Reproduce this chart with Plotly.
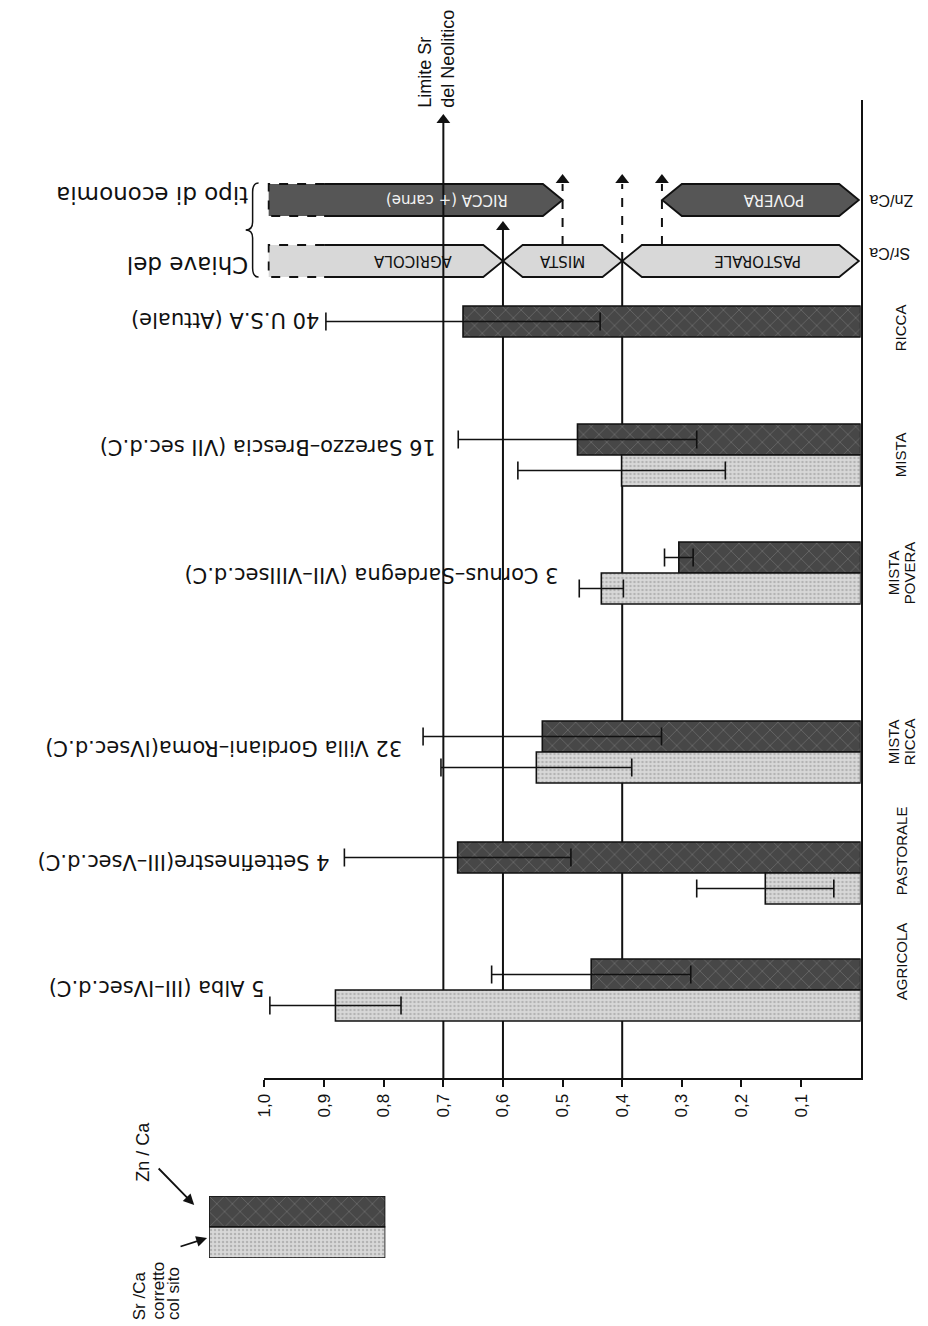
import plotly.graph_objects as go

W, H = 928, 1326

# ---------------- data ----------------
sites = ["5 Alba (III–IVsec.d.C)", "4 Settefinestre(III–Vsec.d.C)",
         "32 Villa Gordiani–Roma(IVsec.d.C)", "3 Cornus–Sardegna (VII–VIIIsec.d.C)",
         "16 Sarezzo–Brescia (VII sec.d.C)", "40 U.S.A (Attuale)"]
economy = ["AGRICOLA", "PASTORALE", "MISTA<br>RICCA", "MISTA<br>POVERA", "MISTA", "RICCA"]
sr_ca = [0.881, 0.160, 0.544, 0.435, 0.401, None]
sr_err = [0.110, 0.115, 0.160, 0.037, 0.174, None]
zn_ca = [0.452, 0.676, 0.534, 0.305, 0.475, 0.667]
zn_err = [0.167, 0.190, 0.200, 0.024, 0.200, 0.230]
tick_vals = [0.1, 0.2, 0.3, 0.4, 0.5, 0.6, 0.7, 0.8, 0.9, 1.0]
tick_text = ["0,1", "0,2", "0,3", "0,4", "0,5", "0,6", "0,7", "0,8", "0,9", "1,0"]

key_sr_labels = ["AGRICOLA", "MISTA", "PASTORALE"]
key_sr_bounds = [(0.993, 0.6), (0.6, 0.4), (0.4, 0.003)]
key_zn_labels = ["RICCA (+ carne)", "POVERA"]
key_zn_bounds = [(0.993, 0.5), (0.333, 0.003)]
neolithic_limit = 0.7

# ---------------- layout positions ----------------
slot_y = [990, 873, 752, 573, 455, 337]          # pair boundary (pixel-like y units)
econ_label_y = [961, 851, 742, 573, 455, 328]
site_label_x = [0.997, 0.888, 0.765, 0.503, 0.71, 0.905]
site_label_y = [988, 862, 748, 575, 447, 320]
key_sr_text_x = [0.752, 0.50, 0.173]
key_zn_text_x = [0.694, 0.146]
BAR_W = 31

DARK_BG, DARK_FG = "#474747", "#999999"
LIGHT_BG, LIGHT_FG = "#d8d8d8", "#8e8e8e"
INK = "#111111"
SANS = "Liberation Sans, Arial, Helvetica, sans-serif"
WIDE = "DejaVu Sans, Verdana, sans-serif"


def px(x):
    return x / W


def py(y):
    return 1 - y / H


fig = go.Figure()

# Zn/Ca bars (dark, above) and Sr/Ca bars (light, below)
fig.add_trace(go.Bar(
    x=zn_ca, y=slot_y, orientation="h", width=BAR_W, offset=-BAR_W,
    marker=dict(color=DARK_BG, line=dict(color=INK, width=1.6),
                pattern=dict(shape="x", bgcolor=DARK_BG, fgcolor=DARK_FG, size=11, solidity=0.12)),
    error_x=dict(type="data", array=zn_err, symmetric=True, color=INK, thickness=1.6, width=9),
    showlegend=False, hoverinfo="skip"))
fig.add_trace(go.Bar(
    x=sr_ca, y=slot_y, orientation="h", width=BAR_W, offset=0,
    marker=dict(color=LIGHT_BG, line=dict(color=INK, width=1.6),
                pattern=dict(shape=".", bgcolor=LIGHT_BG, fgcolor=LIGHT_FG, size=4, solidity=0.3)),
    error_x=dict(type="data", array=sr_err, symmetric=True, color=INK, thickness=1.6, width=9),
    showlegend=False, hoverinfo="skip"))

shapes = []
annotations = []

# ---------------- key hexagons ----------------
T = 0.033


def hex_path(x0, x1, yc, h, left_tip=True):
    if left_tip:
        pts = [(x0, yc), (x0 - T, yc - h), (x1 + T, yc - h), (x1, yc), (x1 + T, yc + h), (x0 - T, yc + h)]
    else:
        pts = [(x0, yc - h), (x1 + T, yc - h), (x1, yc), (x1 + T, yc + h), (x0, yc + h)]
    return "M " + " L ".join(f"{a},{b}" for a, b in pts) + " Z"


SR_YC, ZN_YC, HH = 261, 200, 16
rows = [(key_sr_labels, key_sr_bounds, key_sr_text_x, SR_YC, LIGHT_BG, INK),
        (key_zn_labels, key_zn_bounds, key_zn_text_x, ZN_YC, "#565656", "#f2f2f2")]
for labels, bounds, tx, yc, fill, tcol in rows:
    for lab, (x0, x1), xt in zip(labels, bounds, tx):
        first = x0 > 0.95
        shapes.append(dict(type="path", xref="x", yref="y", layer="below",
                           path=hex_path(x0, x1, yc, HH, left_tip=not first),
                           fillcolor=fill, line=dict(width=0)))
        if first:
            xs = 0.90
            solid = f"M {xs},{yc-HH} L {x1+T},{yc-HH} L {x1},{yc} L {x1+T},{yc+HH} L {xs},{yc+HH}"
            dashed = f"M {xs},{yc-HH} L {x0},{yc-HH} L {x0},{yc+HH} L {xs},{yc+HH}"
            shapes.append(dict(type="path", xref="x", yref="y", layer="below", path=solid,
                               line=dict(color=INK, width=1.8)))
            shapes.append(dict(type="path", xref="x", yref="y", layer="below", path=dashed,
                               line=dict(color=INK, width=1.8, dash="dash")))
        else:
            shapes.append(dict(type="path", xref="x", yref="y", layer="below",
                               path=hex_path(x0, x1, yc, HH, left_tip=True),
                               line=dict(color=INK, width=1.8)))
        annotations.append(dict(x=xt, y=yc, xref="x", yref="y", text=lab, showarrow=False,
                                textangle=180, xanchor="center", yanchor="middle",
                                font=dict(family=WIDE, size=15, color=tcol)))

# ---------------- threshold lines ----------------
def vline(x, y0, y1, dash="solid"):
    shapes.append(dict(type="line", xref="x", yref="y", layer="below", x0=x, x1=x, y0=y0, y1=y1,
                       line=dict(color=INK, width=2, dash=dash)))


vline(neolithic_limit, 1078, 122)
vline(0.6, 1078, 229)
vline(0.4, 1078, SR_YC)
vline(0.4, SR_YC, 184, "dash")
vline(0.5, SR_YC - HH, 184, "dash")
vline(1 / 3, SR_YC - HH, 184, "dash")

fig.add_trace(go.Scatter(
    x=[neolithic_limit, 0.6, 0.5, 0.4, 1 / 3], y=[120, 227, 180, 180, 180], mode="markers",
    marker=dict(symbol="triangle-up", size=12, color=INK), cliponaxis=False,
    showlegend=False, hoverinfo="skip"))

# ---------------- site labels (upside down) ----------------
for lab, lx, ly in zip(sites, site_label_x, site_label_y):
    annotations.append(dict(x=lx, y=ly, xref="x", yref="y", text=lab, showarrow=False,
                            textangle=180, xanchor="right", yanchor="middle",
                            font=dict(family=WIDE, size=21, color=INK)))

# ---------------- economy labels (right) ----------------
for lab, ly in zip(economy + ["ECONOMIA"], econ_label_y + [1096]):
    parts = lab.split("<br>")
    offs = [0] if len(parts) == 1 else [-8, 8]
    for part, o in zip(parts, offs):
        annotations.append(dict(x=px(901 + o), y=ly, xref="paper", yref="y", text=part,
                                showarrow=False, textangle=-90, xanchor="center", yanchor="middle",
                                font=dict(family=SANS, size=15, color=INK)))
annotations.append(dict(x=px(867), y=ZN_YC, xref="paper", yref="y", text="Zn/Ca", showarrow=False,
                        textangle=180, xanchor="left", yanchor="middle",
                        font=dict(family=SANS, size=16, color=INK)))
annotations.append(dict(x=px(867), y=SR_YC - 8, xref="paper", yref="y", text="Sr/Ca", showarrow=False,
                        textangle=180, xanchor="left", yanchor="middle",
                        font=dict(family=SANS, size=16, color=INK)))

# key title
annotations.append(dict(x=px(244), y=265, xref="paper", yref="y", text="Chiave del", showarrow=False,
                        textangle=180, xanchor="right", yanchor="middle",
                        font=dict(family=WIDE, size=23, color=INK)))
annotations.append(dict(x=px(244), y=195, xref="paper", yref="y", text="tipo di economia",
                        showarrow=False, textangle=180, xanchor="right", yanchor="middle",
                        font=dict(family=WIDE, size=23, color=INK)))
brace = [(252, 183), (246, 183), (246, 192), (246, 222), (246, 230), (239, 230), (246, 230),
         (246, 238), (246, 268), (246, 277), (252, 277)]
b = [(px(x), py(y)) for x, y in brace]
bpath = (f"M {b[0][0]},{b[0][1]} Q {b[1][0]},{b[1][1]} {b[2][0]},{b[2][1]} L {b[3][0]},{b[3][1]} "
         f"Q {b[4][0]},{b[4][1]} {b[5][0]},{b[5][1]} Q {b[6][0]},{b[6][1]} {b[7][0]},{b[7][1]} "
         f"L {b[8][0]},{b[8][1]} Q {b[9][0]},{b[9][1]} {b[10][0]},{b[10][1]}")
shapes.append(dict(type="path", xref="paper", yref="paper", path=bpath, line=dict(color=INK, width=1.5)))

# Limite Sr del Neolitico
annotations.append(dict(x=px(431), y=py(110), xref="paper", yref="paper",
                        text="Limite Sr<br>del Neolitico", showarrow=False, textangle=-90,
                        xanchor="center", yanchor="bottom", align="left",
                        font=dict(family=SANS, size=18, color=INK)))

# ---------------- legend swatch ----------------
fig.add_trace(go.Bar(x=[1], y=[1], orientation="h", width=1, xaxis="x2", yaxis="y2",
                     marker=dict(color=DARK_BG, line=dict(color=INK, width=1.6),
                                 pattern=dict(shape="x", bgcolor=DARK_BG, fgcolor=DARK_FG, size=11,
                                              solidity=0.12)),
                     showlegend=False, hoverinfo="skip"))
fig.add_trace(go.Bar(x=[1], y=[0], orientation="h", width=1, xaxis="x2", yaxis="y2",
                     marker=dict(color=LIGHT_BG, line=dict(color=INK, width=1.6),
                                 pattern=dict(shape=".", bgcolor=LIGHT_BG, fgcolor=LIGHT_FG, size=4,
                                              solidity=0.3)),
                     showlegend=False, hoverinfo="skip"))
annotations.append(dict(x=px(135), y=py(1152), xref="paper", yref="paper", text="Zn / Ca",
                        showarrow=False, textangle=-90, xanchor="center", yanchor="middle",
                        font=dict(family=SANS, size=18, color=INK)))
annotations.append(dict(x=px(187), y=py(1205), xref="paper", yref="paper", text="", showarrow=True,
                        ax=-37, ay=-38, arrowhead=2, arrowsize=1.2, arrowwidth=1.8, arrowcolor=INK))
annotations.append(dict(x=px(200), y=py(1238), xref="paper", yref="paper", text="", showarrow=True,
                        ax=-28, ay=9, arrowhead=2, arrowsize=1.2, arrowwidth=1.8, arrowcolor=INK))
for txt, xx in [("Sr /Ca", 132), ("corretto", 150), ("col sito", 166)]:
    annotations.append(dict(x=px(xx), y=py(1322), xref="paper", yref="paper", text=txt,
                            showarrow=False, textangle=-90, xanchor="center", yanchor="bottom",
                            font=dict(family=SANS, size=17, color=INK)))

fig.update_layout(
    width=W, height=H, autosize=False, margin=dict(l=0, r=0, t=0, b=0),
    paper_bgcolor="white", plot_bgcolor="white", barmode="overlay", showlegend=False,
    shapes=shapes, annotations=annotations,
    xaxis=dict(domain=[px(258), px(860)], range=[1.0, 0.0], tickvals=tick_vals, ticktext=tick_text,
               tickangle=-90, ticks="outside", ticklen=7, tickwidth=1.6, tickcolor=INK,
               showline=True, linewidth=2, linecolor=INK, showgrid=False, zeroline=False,
               anchor="y", tickfont=dict(family=SANS, size=17, color=INK)),
    yaxis=dict(domain=[py(1078), py(100)], range=[1078, 100], side="right", showline=True,
               linewidth=2, linecolor=INK, showticklabels=False, ticks="", showgrid=False,
               zeroline=False, anchor="x"),
    xaxis2=dict(domain=[px(202), px(380)], range=[0, 1], visible=False, anchor="y2"),
    yaxis2=dict(domain=[py(1258), py(1196)], range=[-0.5, 1.5], visible=False, anchor="x2"),
)

fig.write_html("out.html", config={"displayModeBar": False},
               post_script="document.body.style.margin='0px';document.body.style.padding='0px';")
